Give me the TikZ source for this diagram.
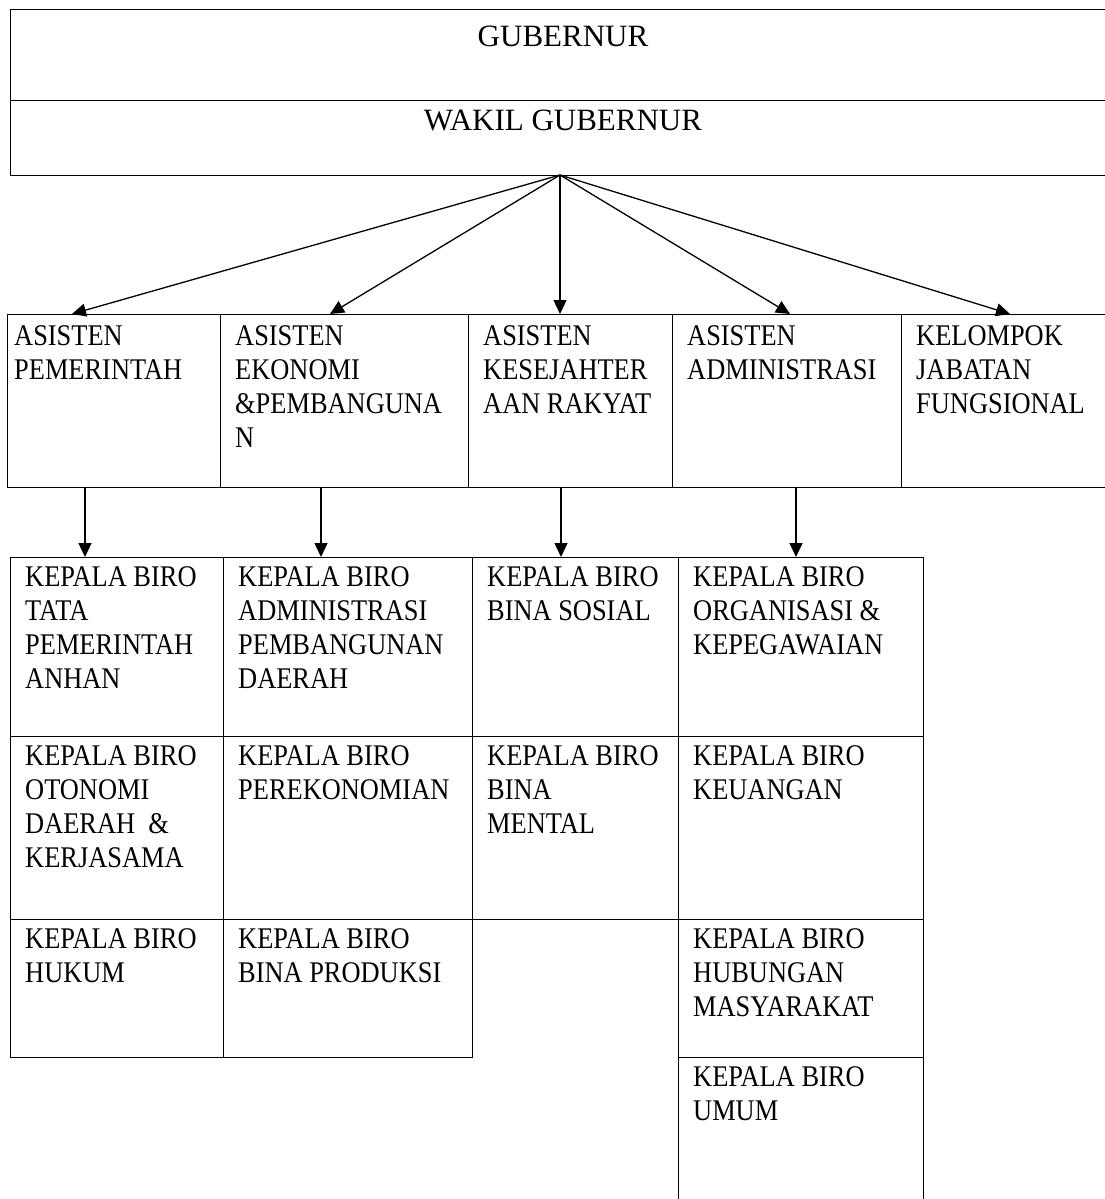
\documentclass[tikz,border=0pt]{standalone}
\usepackage{fontspec}
\setmainfont{Liberation Serif}
\newfontfamily\cellfam{Liberation Serif}[FakeStretch=0.88]
\usetikzlibrary{arrows.meta}
\newcommand{\cellfont}{\cellfam\fontsize{30}{34}\selectfont}
\tikzset{
  cell/.style={draw, line width=1pt, anchor=north west, inner sep=0pt, outer sep=0pt},
  txt/.style={anchor=north west, align=left, inner sep=0pt, xshift=15pt, yshift=-9pt, font=\cellfont},
  head/.style={anchor=north, inner sep=0pt, xshift=-2pt, font=\fontsize{31}{35}\selectfont},
  arr/.style={line width=1.3pt, -{Triangle[length=14pt,width=13pt]}}
}
\begin{document}
\begin{tikzpicture}[x=1pt,y=-1pt]
  \useasboundingbox (0,0) rectangle (1104,1199);
  % pimpinan
  \node[cell, minimum width=1110pt, minimum height=90pt, label={[head, yshift=-16pt]north:GUBERNUR}] (gub) at (10,10) {};
  \node[cell, minimum width=1110pt, minimum height=75pt, label={[head, yshift=-10pt]north:WAKIL GUBERNUR}] (wagub) at (10,100) {};
  \coordinate (apex) at ([xshift=-5pt]wagub.south);
  % asisten
  \node[cell, minimum width=213pt, minimum height=173pt, label={[txt, xshift=-8pt, yshift=-2pt]north west:{ASISTEN\\PEMERINTAH}}] (as1) at (7,314) {};
  \node[cell, minimum width=248pt, minimum height=173pt, label={[txt, yshift=-2pt]north west:{ASISTEN\\EKONOMI\\\&PEMBANGUNA\\N}}] (as2) at (220,314) {};
  \node[cell, minimum width=204pt, minimum height=173pt, label={[txt, yshift=-2pt]north west:{ASISTEN\\KESEJAHTER\\AAN RAKYAT}}] (as3) at (468,314) {};
  \node[cell, minimum width=229pt, minimum height=173pt, label={[txt, yshift=-2pt]north west:{ASISTEN\\ADMINISTRASI}}] (as4) at (672,314) {};
  \node[cell, minimum width=219pt, minimum height=173pt, label={[txt, yshift=-2pt]north west:{KELOMPOK\\JABATAN\\FUNGSIONAL}}] (as5) at (901,314) {};
  \draw[arr] (apex) -- ([xshift=65pt]as1.north west);
  \draw[arr] (apex) -- ([xshift=110pt]as2.north west);
  \draw[arr] (apex) -- ([xshift=92pt]as3.north west);
  \draw[arr] (apex) -- ([xshift=118pt]as4.north west);
  \draw[arr] (apex) -- ([xshift=109pt]as5.north west);
  % biro kolom 1
  \node[cell, minimum width=213pt, minimum height=179pt, label={[txt]north west:{KEPALA BIRO\\TATA\\PEMERINTAH\\ANHAN}}] (b11) at (10,557) {};
  \node[cell, minimum width=213pt, minimum height=183pt, label={[txt]north west:{KEPALA BIRO\\OTONOMI\\DAERAH~ \&\\KERJASAMA}}] (b12) at (10,736) {};
  \node[cell, minimum width=213pt, minimum height=138pt, label={[txt]north west:{KEPALA BIRO\\HUKUM}}] (b13) at (10,919) {};
  % biro kolom 2
  \node[cell, minimum width=249pt, minimum height=179pt, label={[txt]north west:{KEPALA BIRO\\ADMINISTRASI\\PEMBANGUNAN\\DAERAH}}] (b21) at (223,557) {};
  \node[cell, minimum width=249pt, minimum height=183pt, label={[txt]north west:{KEPALA BIRO\\PEREKONOMIAN}}] (b22) at (223,736) {};
  \node[cell, minimum width=249pt, minimum height=138pt, label={[txt]north west:{KEPALA BIRO\\BINA PRODUKSI}}] (b23) at (223,919) {};
  % biro kolom 3
  \node[cell, minimum width=206pt, minimum height=179pt, label={[txt]north west:{KEPALA BIRO\\BINA SOSIAL}}] (b31) at (472,557) {};
  \node[cell, minimum width=206pt, minimum height=183pt, label={[txt]north west:{KEPALA BIRO\\BINA\\MENTAL}}] (b32) at (472,736) {};
  % biro kolom 4
  \node[cell, minimum width=245pt, minimum height=179pt, label={[txt]north west:{KEPALA BIRO\\ORGANISASI \&\\KEPEGAWAIAN}}] (b41) at (678,557) {};
  \node[cell, minimum width=245pt, minimum height=183pt, label={[txt]north west:{KEPALA BIRO\\KEUANGAN}}] (b42) at (678,736) {};
  \node[cell, minimum width=245pt, minimum height=138pt, label={[txt]north west:{KEPALA BIRO\\HUBUNGAN\\MASYARAKAT}}] (b43) at (678,919) {};
  \node[cell, minimum width=245pt, minimum height=155pt, label={[txt]north west:{KEPALA BIRO\\UMUM}}] (b44) at (678,1057) {};
  \draw[arr] ([xshift=78pt]as1.south west) -- ([xshift=75pt]b11.north west);
  \draw[arr] ([xshift=101pt]as2.south west) -- ([xshift=98pt]b21.north west);
  \draw[arr] ([xshift=93pt]as3.south west) -- ([xshift=89pt]b31.north west);
  \draw[arr] ([xshift=124pt]as4.south west) -- ([xshift=118pt]b41.north west);
\end{tikzpicture}
\end{document}
